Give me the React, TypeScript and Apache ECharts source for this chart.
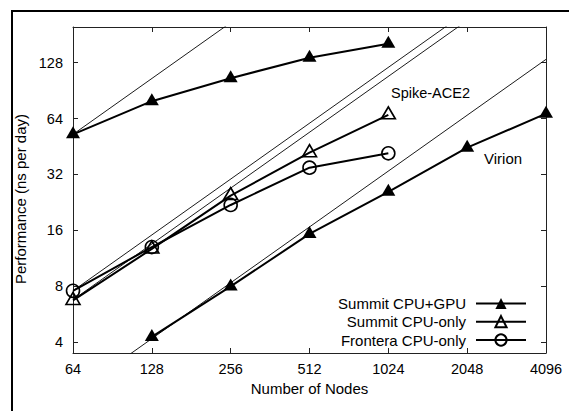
import React, { useEffect, useRef } from "react";
import * as echarts from "echarts";

// Tick values (powers of two) shown on the axes
const xTicks = [64, 128, 256, 512, 1024, 2048, 4096];
const yTicks = [4, 8, 16, 32, 64, 128];

// Spike-ACE2 system
const spikeNodes = [64, 128, 256, 512, 1024];
const spikeGpu = [52.6, 79.4, 105.6, 136, 162];
const spikeSummitCpu = [6.7, 12.7, 24.6, 41.9, 67];
const spikeFrontera = [7.55, 13.0, 21.9, 34.8, 41.6];

// Virion system
const virionNodes = [128, 256, 512, 1024, 2048, 4096];
const virionGpu = [4.26, 7.97, 15.3, 25.8, 44.6, 68];

// Ideal (linear) scaling reference lines
const idealNodes = [64, 4096];
const idealSpikeGpu = [52.6, 3366.4];
const idealSpikeSummitCpu = [6.75, 432];
const idealSpikeFrontera = [7.55, 483.2];
const idealVirion = [2.085, 133.4];

const FONT = "'Liberation Sans', Arial, Helvetica, sans-serif";

const pair = (xs: number[], ys: number[]) => xs.map((x, i) => [x, ys[i]]);

const isPow2 = (v: number) => {
  const l = Math.log2(v);
  return Math.abs(l - Math.round(l)) < 1e-6;
};

export default function App() {
  const ref = useRef<HTMLDivElement>(null);
  useEffect(() => {
    if (!ref.current) return;
    const chart = echarts.init(ref.current, undefined, { renderer: "svg" });

    const axisLine = { show: true, lineStyle: { color: "#222", width: 1 } };
    const axisTick = { show: true, inside: true, length: 5, lineStyle: { color: "#222", width: 1 } };

    const filledTri = {
      symbol: "triangle",
      symbolSize: [14, 12],
      symbolOffset: [0, -2],
      itemStyle: { color: "#000", borderColor: "#000", borderWidth: 0 },
    };
    const openTri = {
      symbol: "triangle",
      symbolSize: [14, 12],
      symbolOffset: [0, -2],
      itemStyle: { color: "rgba(0,0,0,0)", borderColor: "#000", borderWidth: 1.6 },
    };
    const openCircle = {
      symbol: "circle",
      symbolSize: 13,
      itemStyle: { color: "rgba(0,0,0,0)", borderColor: "#000", borderWidth: 1.6 },
    };

    const dataLine = (name: string, xs: number[], ys: number[], marker: any) => ({
      type: "line",
      name,
      data: pair(xs, ys),
      lineStyle: { color: "#000", width: 2 },
      ...marker,
      z: 3,
      silent: true,
    });
    const idealLine = (ys: number[]) => ({
      type: "line",
      name: "ideal",
      data: pair(idealNodes, ys),
      symbol: "none",
      lineStyle: { color: "#000", width: 0.9 },
      clip: true,
      z: 2,
      silent: true,
    });

    const legendBase = {
      orient: "horizontal",
      align: "right",
      right: 42,
      itemWidth: 50,
      itemHeight: 14,
      padding: 0,
      selectedMode: false,
      textStyle: { fontSize: 15, color: "#000", fontFamily: FONT, padding: [0, 5, 0, 0] },
    };

    chart.setOption({
      animation: false,
      backgroundColor: "transparent",
      textStyle: { fontFamily: FONT },
      grid: { left: 73, right: 23, top: 27, bottom: 58, containLabel: false },
      xAxis: [
        {
          type: "log",
          logBase: 2,
          min: xTicks[0],
          max: xTicks[xTicks.length - 1],
          name: "Number of Nodes",
          nameLocation: "middle",
          nameGap: 28,
          nameTextStyle: { fontSize: 15, color: "#000", fontFamily: FONT },
          axisLine,
          axisTick,
          splitLine: { show: false },
          axisLabel: {
            fontSize: 14.5,
            color: "#000",
            margin: 8,
            fontFamily: FONT,
            formatter: (v: number) => (isPow2(v) ? String(Math.round(v)) : ""),
          },
        },
        {
          type: "log",
          logBase: 2,
          position: "top",
          min: xTicks[0],
          max: xTicks[xTicks.length - 1],
          axisLine,
          axisTick,
          splitLine: { show: false },
          axisLabel: { show: false },
        },
      ],
      yAxis: [
        {
          type: "log",
          logBase: 2,
          min: 3.49,
          max: 199.3,
          name: "Performance (ns per day)",
          nameLocation: "middle",
          nameGap: 29,
          nameTextStyle: { fontSize: 15, color: "#000", fontFamily: FONT, padding: [0, 18, 0, 0] },
          axisLine,
          axisTick,
          splitLine: { show: false },
          axisLabel: {
            fontSize: 14.5,
            color: "#000",
            margin: 10,
            fontFamily: FONT,
            formatter: (v: number) => (isPow2(v) && yTicks.includes(Math.round(v)) ? String(Math.round(v)) : ""),
          },
        },
        {
          type: "log",
          logBase: 2,
          position: "right",
          min: 3.49,
          max: 199.3,
          axisLine,
          axisTick,
          splitLine: { show: false },
          axisLabel: { show: false },
        },
      ],
      legend: [
        { ...legendBase, data: ["Summit CPU+GPU"], top: 296 },
        { ...legendBase, data: ["Summit CPU-only"], top: 314.2 },
        { ...legendBase, data: ["Frontera CPU-only"], top: 332.5 },
      ],
      graphic: [
        {
          type: "text",
          left: 391,
          top: 85,
          style: { text: "Spike-ACE2", fontSize: 14.5, fill: "#000", fontFamily: FONT },
          silent: true,
        },
        {
          type: "text",
          left: 484,
          top: 151,
          style: { text: "Virion", fontSize: 15, fill: "#000", fontFamily: FONT },
          silent: true,
        },
      ],
      series: [
        idealLine(idealSpikeGpu),
        idealLine(idealSpikeSummitCpu),
        idealLine(idealSpikeFrontera),
        idealLine(idealVirion),
        dataLine("Summit CPU+GPU", spikeNodes, spikeGpu, filledTri),
        dataLine("Summit CPU-only", spikeNodes, spikeSummitCpu, openTri),
        dataLine("Frontera CPU-only", spikeNodes, spikeFrontera, openCircle),
        dataLine("Summit CPU+GPU", virionNodes, virionGpu, filledTri),
      ],
    });

    return () => chart.dispose();
  }, []);

  return (
    <div
      style={{
        position: "fixed",
        left: 0,
        top: 0,
        width: 569,
        height: 411,
        overflow: "hidden",
        background: "#fff",
      }}
    >
      <div
        style={{
          position: "absolute",
          left: 11,
          top: 10,
          width: 700,
          height: 600,
          borderLeft: "2.4px solid #000",
          borderTop: "2.4px solid #000",
          boxSizing: "border-box",
        }}
      />
      <div ref={ref} style={{ position: "absolute", left: 0, top: 0, width: 569, height: 411 }} />
    </div>
  );
}
